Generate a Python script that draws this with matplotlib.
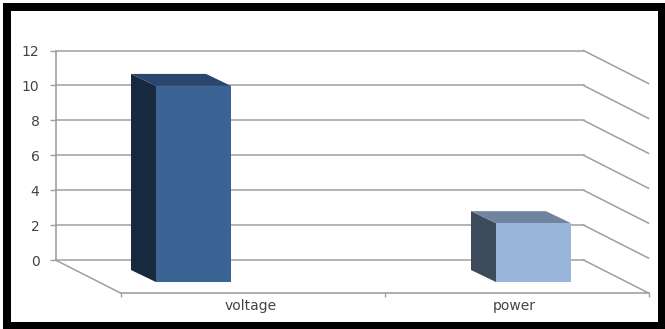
import matplotlib
matplotlib.use("Agg")
import matplotlib.pyplot as plt
from matplotlib.patches import Polygon, Rectangle

categories = ["voltage", "power"]
values = [10, 3]
y_ticks = [0, 2, 4, 6, 8, 10, 12]

front_colors = ["#3b6494", "#99b5da"]
top_colors = ["#2a466e", "#71849f"]
side_colors = ["#17293e", "#3c4a5b"]

W, H = 665, 329
GRID = "#9f9f9f"
TEXT = "#444444"

# floor depth, in wall units (1 category wide, 1 value high)
DEPTH_X = 65 / 264
DEPTH_Y = -33 / 17.45

# bars sit nearer the viewer, so they come out larger than the wall scale
BAR_START = 138 / 264
BAR_STEP = 340 / 264
BAR_W = 75 / 264
BAR_BASE = -22 / 17.45
BAR_SCALE = 19.6 / 17.45
BAR_DX = -25 / 264
BAR_DY = 12 / 17.45

fig = plt.figure(figsize=(W / 100, H / 100), dpi=100, facecolor="white")

# black frame round the chart
fig.add_artist(Rectangle((3 / W, 0), (W - 3) / W, (H - 3) / H, transform=fig.transFigure,
                         facecolor="black", edgecolor="none", zorder=-2))
fig.add_artist(Rectangle((11 / W, 7 / H), 647 / W, 311 / H, transform=fig.transFigure,
                         facecolor="white", edgecolor="none", zorder=-1))

ax = fig.add_axes([55.5 / W, (H - 260) / H, 528 / W, 209.5 / H])
ax.patch.set_visible(False)
ax.set_xlim(0, 2)
ax.set_ylim(0, 12)
for name in ["top", "right", "bottom"]:
    ax.spines[name].set_visible(False)
ax.spines["left"].set_color(GRID)
ax.spines["left"].set_linewidth(1.2)

ax.set_yticks(y_ticks)
ax.set_xticks([])
ax.tick_params(axis="y", length=4.5, width=1, color=GRID, labelcolor=TEXT, labelsize=10, pad=7)
ax.yaxis.grid(True, color=GRID, linewidth=1.1, clip_on=False)
ax.set_axisbelow(True)

# side wall lines going forward from the back wall
for t in y_ticks:
    ax.plot([2, 2 + DEPTH_X], [t, t + DEPTH_Y], color=GRID, lw=1.1, clip_on=False, zorder=1)

# floor edges
ax.plot([0, DEPTH_X], [0, DEPTH_Y], color=GRID, lw=1.1, clip_on=False, zorder=1)
ax.plot([DEPTH_X, 2 + DEPTH_X], [DEPTH_Y, DEPTH_Y], color=GRID, lw=1.2, clip_on=False, zorder=1)
ax.plot([i + DEPTH_X for i in range(len(categories) + 1)], [DEPTH_Y] * (len(categories) + 1),
        linestyle="none", marker=3, markersize=3, markeredgecolor=GRID, markeredgewidth=1,
        clip_on=False, zorder=1)

for i, (name, val) in enumerate(zip(categories, values)):
    ax.annotate(name, xy=(i + 0.5 + DEPTH_X, DEPTH_Y), xytext=(-2, -13), textcoords="offset pixels",
                ha="center", va="center", color=TEXT, fontsize=10, annotation_clip=False)

    x0 = BAR_START + i * BAR_STEP - BAR_W / 2
    x1 = x0 + BAR_W
    y0 = BAR_BASE
    y1 = BAR_BASE + val * BAR_SCALE
    dx, dy = BAR_DX, BAR_DY

    ax.add_patch(Polygon([(x0, y0), (x0 + dx, y0 + dy), (x0 + dx, y1 + dy), (x0, y1)],
                         facecolor=side_colors[i], edgecolor="none", clip_on=False, zorder=3))
    ax.add_patch(Polygon([(x0, y1), (x0 + dx, y1 + dy), (x1 + dx, y1 + dy), (x1, y1)],
                         facecolor=top_colors[i], edgecolor="none", clip_on=False, zorder=3))
    ax.add_patch(Rectangle((x0, y0), BAR_W, y1 - y0, facecolor=front_colors[i],
                           edgecolor="none", clip_on=False, zorder=4))

fig.savefig("out.png", dpi=100)
